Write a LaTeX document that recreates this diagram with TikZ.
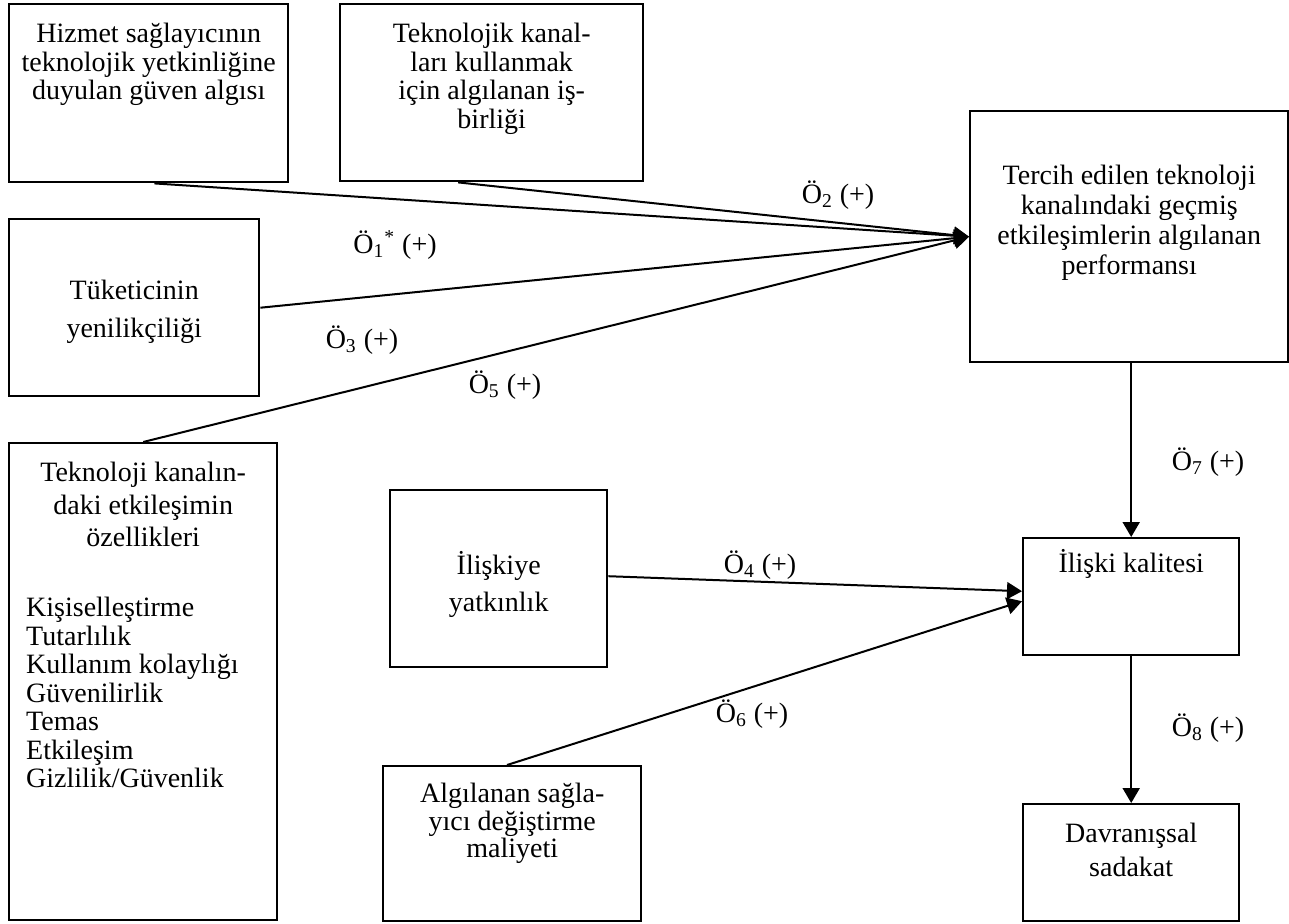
\documentclass[tikz,border=0pt]{standalone}
\usepackage{fontspec}
\setmainfont{Liberation Serif}
\usetikzlibrary{arrows.meta,calc}

% box content: width, height, first baseline, text
\newcommand{\kutuyazi}[4]{\parbox[c][#2][t]{#1}{\lineskiplimit=-20pt\centering\rule{0pt}{#3}#4}}

\begin{document}
\begin{tikzpicture}[x=0.5pt,y=-0.5pt,
    kutu/.style={draw,line width=1.2pt,inner sep=0pt,anchor=north west,
                 font=\fontsize{14}{14.25}\selectfont},
    etiket/.style={font=\fontsize{14}{14.25}\selectfont,inner sep=0pt},
    ok/.style={line width=1pt,-{Triangle[length=7.5pt,width=8.5pt]}}]

  \useasboundingbox (0,0) rectangle (1289,923);

  % left column
  \node[kutu] (hizmet) at (8,3) {\kutuyazi{139.5pt}{89pt}{19.25pt}{Hizmet sağlayıcının\\teknolojik yetkinliğine\\duyulan güven algısı}};
  \node[kutu] (isbirligi) at (339,3) {\kutuyazi{151.5pt}{88.5pt}{19.25pt}{Teknolojik kanal-\\ları kullanmak\\için algılanan iş-\\birliği}};
  \node[kutu,font=\fontsize{14}{19}\selectfont] (yenilik) at (8,218) {\kutuyazi{125pt}{88.5pt}{40.25pt}{Tüketicinin\\yenilikçiliği}};
  \node[kutu] (ozellik) at (8,442) {\parbox[c][238.5pt][t]{134pt}{\lineskiplimit=-20pt\centering\rule{0pt}{19.25pt}Teknoloji kanalın-\\[2pt]daki etkileşimin\\[2pt]özellikleri\par\vspace{20.75pt}
      \raggedright\leftskip=8.5pt Kişiselleştirme\\Tutarlılık\\Kullanım kolaylığı\\Güvenilirlik\\Temas\\Etkileşim\\Gizlilik/Güvenlik}};

  % middle
  \node[kutu,font=\fontsize{14}{18.5}\selectfont] (yatkinlik) at (389,489) {\kutuyazi{108.5pt}{88.5pt}{42.25pt}{İlişkiye\\yatkınlık}};
  \node[kutu,font=\fontsize{14}{13.75}\selectfont] (maliyet) at (382,765) {\kutuyazi{129pt}{77.5pt}{18.25pt}{Algılanan sağla-\\yıcı değiştirme\\maliyeti}};

  % right column
  \node[kutu,font=\fontsize{14}{15}\selectfont] (tercih) at (969,110) {\kutuyazi{159pt}{125.5pt}{36.75pt}{Tercih edilen teknoloji\\kanalındaki geçmiş\\etkileşimlerin algılanan\\performansı}};
  \node[kutu] (iliski) at (1022,537) {\kutuyazi{108pt}{58.5pt}{17.25pt}{İlişki kalitesi}};
  \node[kutu,font=\fontsize{14}{17}\selectfont] (sadakat) at (1022,803) {\kutuyazi{108pt}{58.5pt}{19.25pt}{Davranışsal\\sadakat}};

  % connectors
  \draw[ok] ($(hizmet.south west)!0.52!(hizmet.south east)$) -- (tercih.west);
  \draw[ok] ($(isbirligi.south west)!0.39!(isbirligi.south east)$) -- (tercih.west);
  \draw[ok] (yenilik.east) -- (tercih.west);
  \draw[ok] (ozellik.north) -- (tercih.west);
  \draw[ok] ([yshift=1.25pt]yatkinlik.east) -- ([yshift=2.75pt]iliski.west);
  \draw[ok] ($(maliyet.north west)!0.48!(maliyet.north east)$) -- ([yshift=-2.25pt]iliski.west);
  \draw[ok] (tercih.south -| iliski.north) -- (iliski.north);
  \draw[ok] (iliski.south) -- (sadakat.north);

  % labels
  \node[etiket] (o1) at (395,245) {Ö\textsubscript{1}\textsuperscript{*} (+)};
  \node[etiket] (o2) at (838,195) {Ö\textsubscript{2} (+)};
  \node[etiket] (o3) at (362,340) {Ö\textsubscript{3} (+)};
  \node[etiket] (o4) at (760,565) {Ö\textsubscript{4} (+)};
  \node[etiket] (o5) at (505,385) {Ö\textsubscript{5} (+)};
  \node[etiket] (o6) at (752,714) {Ö\textsubscript{6} (+)};
  \node[etiket] (o7) at (1208,462) {Ö\textsubscript{7} (+)};
  \node[etiket] (o8) at (1208,728) {Ö\textsubscript{8} (+)};
\end{tikzpicture}
\end{document}
